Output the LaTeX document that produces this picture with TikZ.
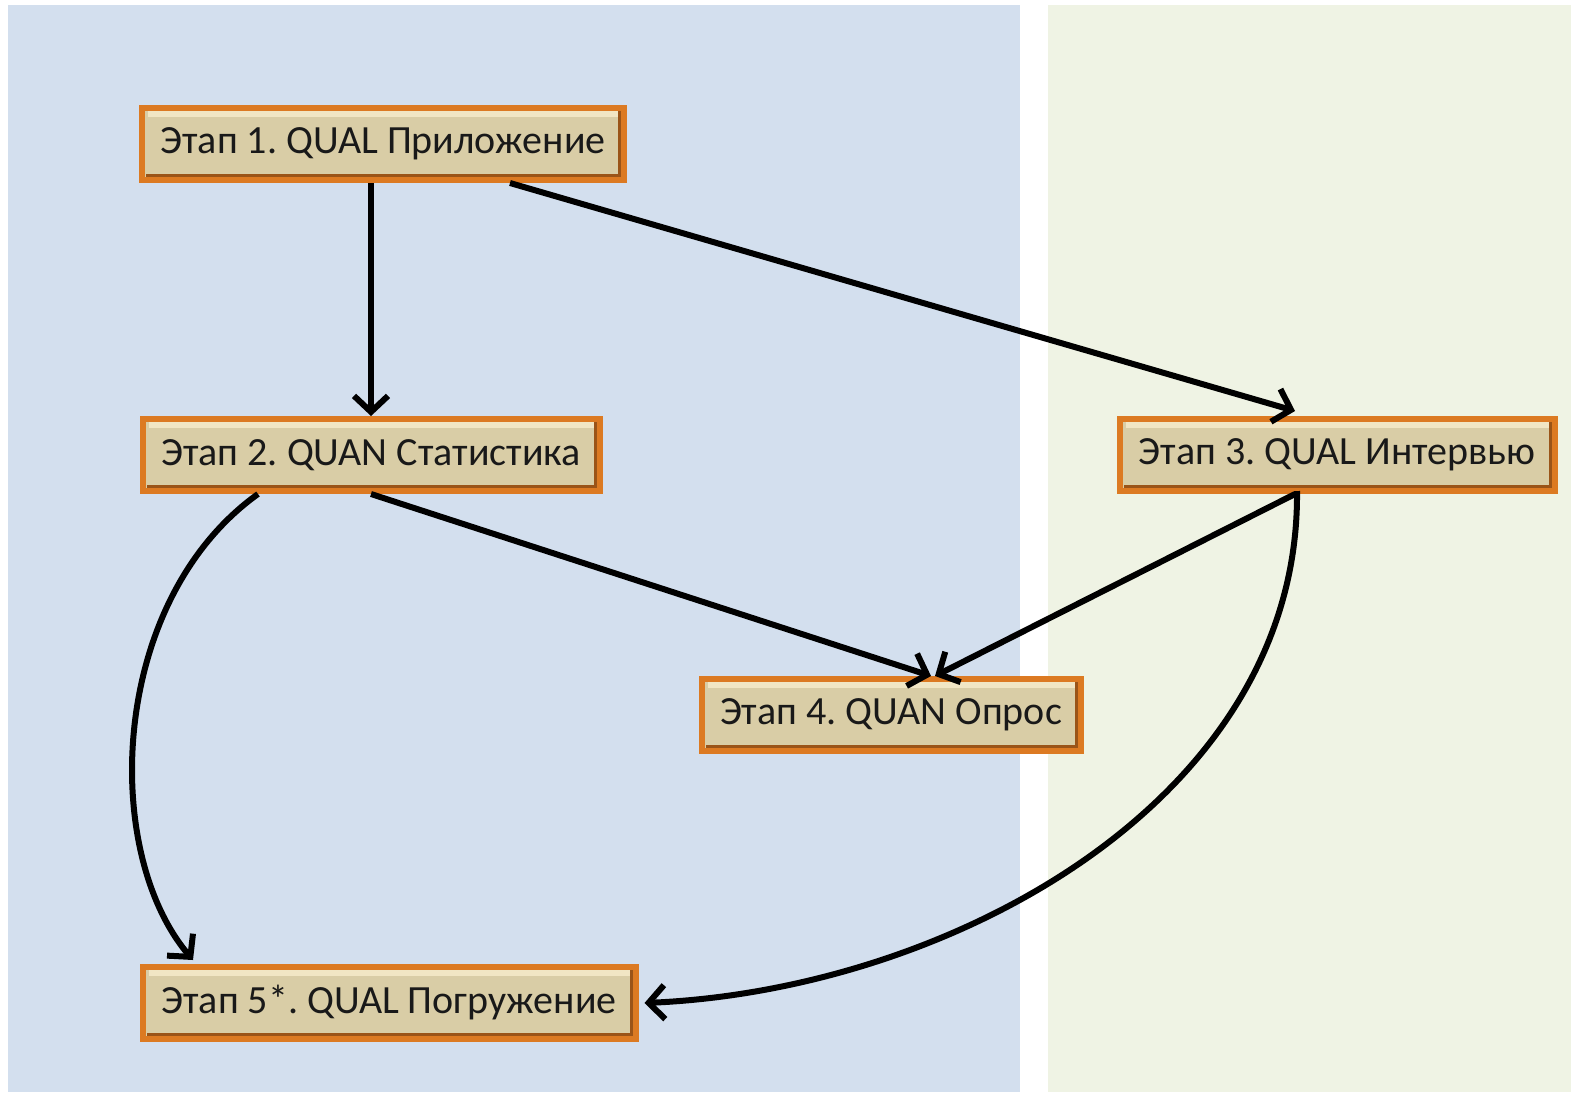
\documentclass[tikz,border=0pt]{standalone}
\usepackage{fontspec}
\setmainfont{Carlito}
\usetikzlibrary{arrows.meta}
\frenchspacing
\definecolor{bluepanel}{HTML}{D3DFEE}
\definecolor{greenpanel}{HTML}{EFF3E4}
\definecolor{boxfill}{HTML}{D9CDA6}
\definecolor{boxedge}{HTML}{DC7A22}
\definecolor{boxdark}{HTML}{9A5418}
\definecolor{boxlight}{HTML}{F1E6C4}
\tikzset{
  stagebox/.style={draw=boxedge, line width=6pt, fill=boxfill,
    inner sep=0pt, minimum height=72pt, font=\fontsize{40}{44}\selectfont\frenchspacing,
    text=black!90,
    path picture={
      \draw[boxlight, line width=6pt]
        ([xshift=6pt,yshift=-6pt]path picture bounding box.north west) --
        ([xshift=-6pt,yshift=-6pt]path picture bounding box.north east);
      \draw[boxdark, line width=4pt]
        ([xshift=-4pt,yshift=-3pt]path picture bounding box.north east) --
        ([xshift=-4pt,yshift=4pt]path picture bounding box.south east) --
        ([xshift=4pt,yshift=4pt]path picture bounding box.south west);
    }},
  flow/.style={line width=6pt, draw=black, -{Straight Barb[length=16pt,width=34pt,line width=6pt]}},
}
\begin{document}
\begin{tikzpicture}[x=1pt,y=-1pt]
\useasboundingbox (0,0) rectangle (1571,1096);
\fill[white] (0,0) rectangle (1571,1096);
\fill[bluepanel] (8,5) rectangle (1020,1092);
\fill[greenpanel] (1048,5) rectangle (1571,1092);

\node[stagebox, minimum width=482pt] (n1) at (383,144) {Этап 1. QUAL Приложение};
\node[stagebox, minimum width=457pt] (n2) at (371,455) {Этап 2. QUAN Статистика};
\node[stagebox, minimum width=435pt] (n3) at (1337,455) {Этап 3. QUAL Интервью};
\node[stagebox, minimum width=379pt] (n4) at (891,715) {Этап 4. QUAN Опрос};
\node[stagebox, minimum width=493pt] (n5) at (389,1003) {Этап 5*. QUAL Погружение};

\draw[flow] (n2.north |- n1.south) -- (n2.north);
\draw[flow] ([xshift=127pt]n1.south) -- ([xshift=-42pt,yshift=5pt]n3.north);
\draw[flow] (n2.south) -- ([xshift=40pt]n4.north);
\draw[flow] ([xshift=-42pt]n3.south) -- ([xshift=44pt]n4.north);
\draw[flow] ([xshift=-113pt]n2.south) .. controls (110,600) and (100,850) .. ([xshift=-196pt,yshift=4pt]n5.north);
\draw[flow] ([xshift=-40pt,yshift=3pt]n3.south) .. controls (1300,800) and (950,990) .. ([xshift=6pt]n5.east);
\end{tikzpicture}
\end{document}
